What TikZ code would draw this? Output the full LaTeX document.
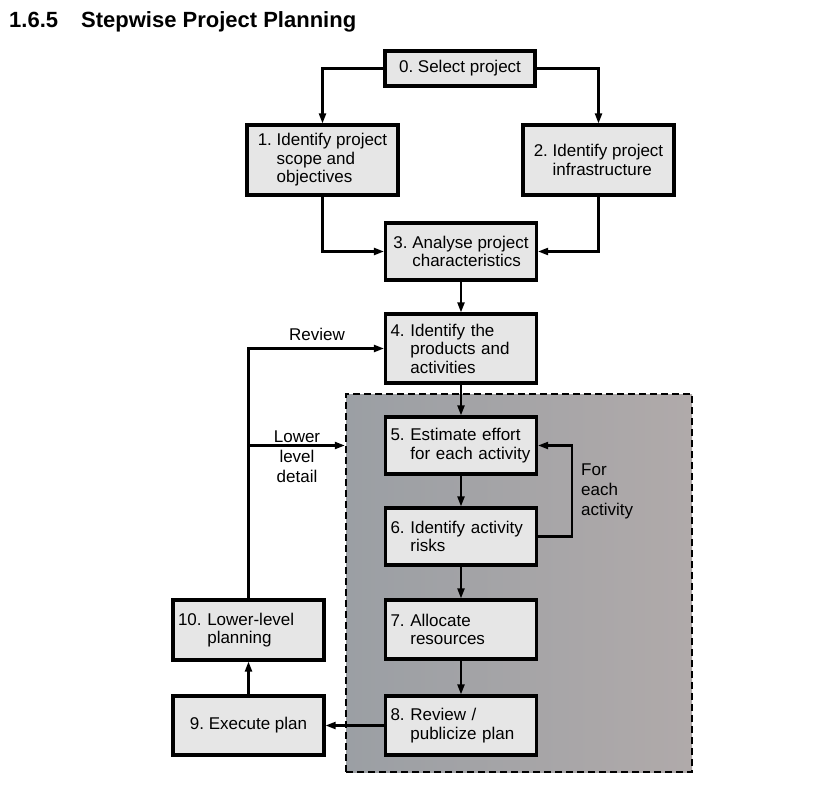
\documentclass[tikz,border=0pt]{standalone}
\usepackage{fontspec}
\setmainfont{Liberation Sans}
\usetikzlibrary{arrows.meta}
\definecolor{boxgray}{RGB}{230,230,230}
\definecolor{regL}{RGB}{155,159,164}
\definecolor{regR}{RGB}{176,170,170}
\newcommand{\hind}[1]{\hphantom{#1\ }}
\newcommand{\boxfont}{\frenchspacing\fontsize{17}{18.5}\selectfont}
\newcommand{\labfont}{\frenchspacing\fontsize{17}{20}\selectfont}
\newcommand{\titlefont}{\fontsize{22}{26}\selectfont\bfseries}
\begin{document}
\begin{tikzpicture}[x=1pt,y=-1pt,
  box/.style={draw=black, line width=3.2pt, fill=boxgray, minimum width=151pt,
    inner sep=0pt, font=\boxfont, align=left},
  lbox/.style={box, text width=141pt},
  conn/.style={line width=2.1pt, -{Triangle[length=10pt,width=7pt]}},
  lab/.style={font=\labfont, inner sep=0pt}]
\useasboundingbox (0,0) rectangle (816,786);

\node[anchor=base west, inner sep=0pt, font=\titlefont] (title) at (9,28)
  {1.6.5\hspace{23pt}Stepwise Project Planning};

% dashed region
\node[draw=black, line width=2.4pt, dash pattern=on 7pt off 4pt,
  left color=regL, right color=regR, minimum width=346pt, minimum height=378pt,
  inner sep=0pt] (reg) at (519,583) {};

\node[box, minimum width=150pt, minimum height=35pt, align=center] (b0) at (460,68.5) {0. Select project};
\node[box, minimum height=70pt] (b1) at (322.5,160) {1. Identify project\\\hind{1.}scope and\\\hind{1.}objectives};
\node[box, minimum height=70pt] (b2) at (598.5,160) {2. Identify project\\\hind{2.}infrastructure};
\node[box, minimum height=57pt] (b3) at (461,251.5) {3. Analyse project\\\hind{3.}characteristics};
\node[lbox, minimum height=69pt] (b4) at (461,348.5) {4. Identify the\\\hind{4.}products and\\\hind{4.}activities};
\node[lbox, minimum height=57pt] (b5) at (461,445.5) {5. Estimate effort\\\hind{5.}for each activity};
\node[lbox, minimum height=57pt] (b6) at (461,536.5) {6. Identify activity\\\hind{6.}risks};
\node[lbox, minimum height=59pt] (b7) at (461,629.5) {7. Allocate\\\hind{7.}resources};
\node[lbox, minimum height=59pt] (b8) at (461,725.5) {8. Review /\\\hind{8.}publicize plan};
\node[box, minimum height=59pt, align=center] (b9) at (248.5,725.5) {9. Execute plan};
\node[lbox, minimum height=60pt] (b10) at (248.5,630) {10. Lower-level\\\hind{10.}planning};

% connectors
\draw[conn] (b0.west) -| (b1.north);
\draw[conn] (b0.east) -| (b2.north);
\draw[conn] (b1.south) |- (b3.west);
\draw[conn] (b2.south) |- (b3.east);
\draw[conn] (b3.south) -- (b4.north);
\draw[conn] (b4.south) -- (b5.north);
\draw[conn] (b5.south) -- (b6.north);
\draw[conn] (b6.south) -- (b7.north);
\draw[conn] (b7.south) -- (b8.north);
\draw[conn] (b8.west) -- (b9.east);
\draw[conn] (b9.north) -- (b10.south);
\draw[conn] (b10.north) |- (b4.west);
\coordinate (ld) at (b10.north |- b5.west);
\draw[conn] (ld) -- (reg.west |- ld);
\draw[conn] (b6.east) -- ++(34,0) |- (b5.east);

% labels
\node[lab, anchor=base] (rev) at (317,340) {Review};
\node[lab, align=center] (lld) at (297,456.5) {Lower\\level\\detail};
\node[lab, align=left, anchor=west] (fea) at (581,491) {For\\each\\activity};
\end{tikzpicture}
\end{document}
